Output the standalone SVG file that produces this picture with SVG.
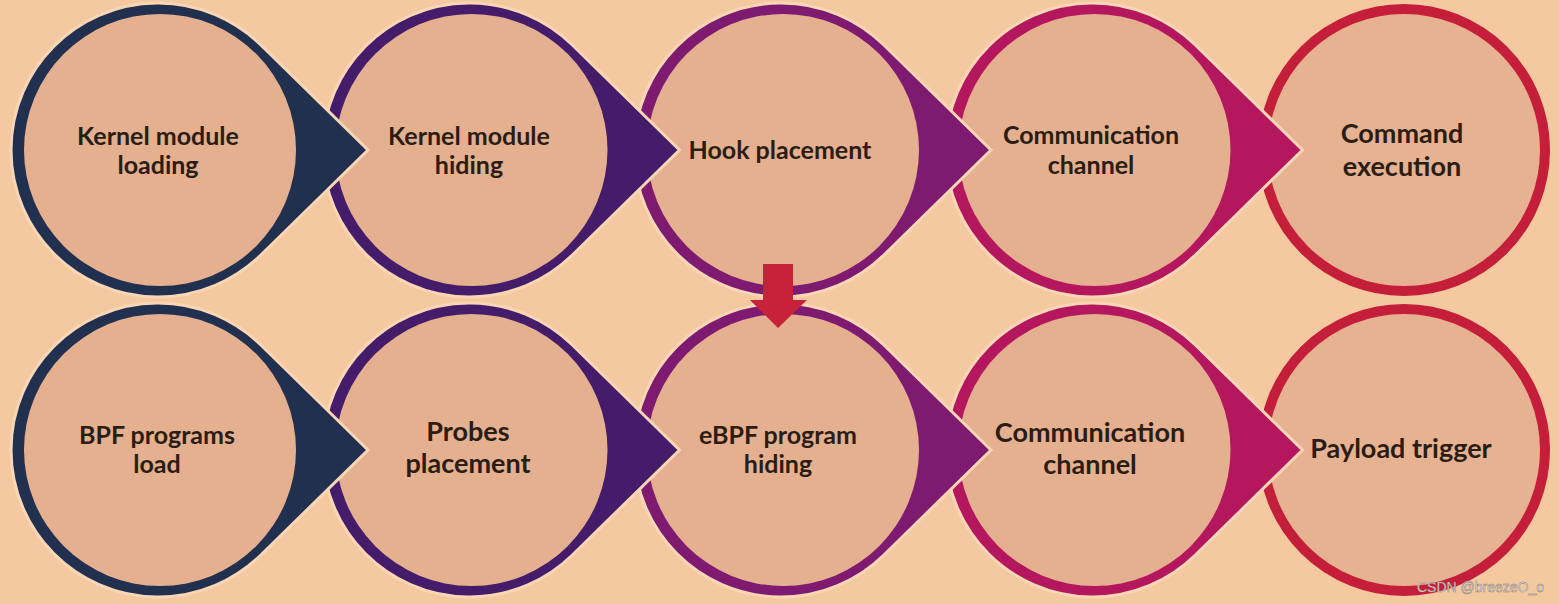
<svg xmlns="http://www.w3.org/2000/svg" width="1559" height="604" viewBox="0 0 1559 604">
<style>
  .bg{fill:#f4c9a0}
  .outer{stroke:#f8d6b6;stroke-width:3;stroke-linejoin:miter}
  .inner{fill:#e4b08f}
  .t{font-family:Lato,"Open Sans","Liberation Sans",sans-serif;font-weight:700;fill:#2b1d14;text-anchor:middle}
  .s{font-size:25px}
  .l{font-size:27px}
  .wm{font-family:"Liberation Sans",Arial,sans-serif;font-size:14px;fill:#ececec;stroke:#8c7c72;stroke-width:0.5;text-anchor:end}
</style>
<defs>
  <path id="drop" d="M210 0 L102.9 -105 A147 147 0 1 0 102.9 105 Z"/>
</defs>
<rect class="bg" x="0" y="0" width="1559" height="604"/>

<!-- Row 1 (drawn right to left so tips overlap next node) -->
<g id="n5">
  <circle cx="1404" cy="150" r="141" fill="#e6b291" stroke="#c41e3a" stroke-width="10"/>
  <text class="t l" x="1402" y="143">Command</text>
  <text class="t l" x="1402" y="176">execution</text>
</g>
<g id="n4">
  <use href="#drop" class="outer" transform="translate(1092.5,150)" fill="#b5175e"/>
  <circle class="inner" cx="1094.5" cy="150" r="136"/>
  <text class="t s" x="1091" y="144">Communication</text>
  <text class="t s" x="1091" y="174">channel</text>
</g>
<g id="n3">
  <use href="#drop" class="outer" transform="translate(781,150)" fill="#7e1a70"/>
  <circle class="inner" cx="783" cy="150" r="136"/>
  <text class="t s" x="780" y="159">Hook placement</text>
</g>
<g id="n2">
  <use href="#drop" class="outer" transform="translate(469.5,150)" fill="#451c6a"/>
  <circle class="inner" cx="471.5" cy="150" r="136"/>
  <text class="t s" x="469" y="145">Kernel module</text>
  <text class="t s" x="469" y="174">hiding</text>
</g>
<g id="n1">
  <use href="#drop" class="outer" transform="translate(158,150)" fill="#22304f"/>
  <circle class="inner" cx="160" cy="150" r="136"/>
  <text class="t s" x="158" y="145">Kernel module</text>
  <text class="t s" x="158" y="174">loading</text>
</g>

<!-- Row 2 -->
<g id="m5">
  <circle cx="1404" cy="450" r="141" fill="#e6b291" stroke="#c41e3a" stroke-width="10"/>
  <text class="t l" x="1401" y="458">Payload trigger</text>
</g>
<g id="m4">
  <use href="#drop" class="outer" transform="translate(1092.5,450)" fill="#b5175e"/>
  <circle class="inner" cx="1094.5" cy="450" r="136"/>
  <text class="t l" x="1090" y="442">Communication</text>
  <text class="t l" x="1090" y="474">channel</text>
</g>
<g id="m3">
  <use href="#drop" class="outer" transform="translate(781,450)" fill="#7e1a70"/>
  <circle class="inner" cx="783" cy="450" r="136"/>
  <text class="t s" x="778" y="444">eBPF program</text>
  <text class="t s" x="778" y="473">hiding</text>
</g>
<g id="m2">
  <use href="#drop" class="outer" transform="translate(469.5,450)" fill="#451c6a"/>
  <circle class="inner" cx="471.5" cy="450" r="136"/>
  <text class="t l" x="468" y="441">Probes</text>
  <text class="t l" x="468" y="473">placement</text>
</g>
<g id="m1">
  <use href="#drop" class="outer" transform="translate(158,450)" fill="#22304f"/>
  <circle class="inner" cx="160" cy="450" r="136"/>
  <text class="t s" x="157" y="444">BPF programs</text>
  <text class="t s" x="157" y="473">load</text>
</g>

<g id="connectors">
  <path d="M763 264 H793 V300 H807 L778 328 L750 300 H763 Z" fill="#c8213a"/>
</g>

<text class="wm" x="1544" y="592">CSDN @breezeO_o</text>
</svg>
